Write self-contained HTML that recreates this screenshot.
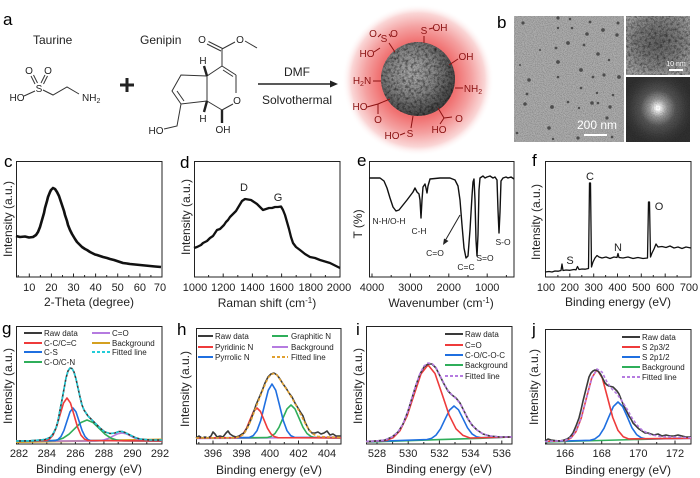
<!DOCTYPE html>
<html><head><meta charset="utf-8"><style>
html,body{margin:0;padding:0;background:#fff;}
svg{display:block;font-family:"Liberation Sans",Arial,sans-serif;}
</style></head><body>
<svg width="700" height="478" viewBox="0 0 700 478" xmlns="http://www.w3.org/2000/svg">
<defs>
<radialGradient id="glow" cx="0.5" cy="0.5" r="0.5">
<stop offset="0" stop-color="#ef6464"/>
<stop offset="0.5" stop-color="#f07070"/>
<stop offset="0.7" stop-color="#f4a0a0"/>
<stop offset="0.88" stop-color="#fad6d6"/>
<stop offset="1" stop-color="#ffffff" stop-opacity="0"/>
</radialGradient>
<radialGradient id="sph" cx="0.42" cy="0.4" r="0.65">
<stop offset="0" stop-color="#b2b2b2"/>
<stop offset="0.5" stop-color="#888"/>
<stop offset="1" stop-color="#3c3c3c"/>
</radialGradient>
<radialGradient id="hr" cx="0.5" cy="0.45" r="0.6">
<stop offset="0" stop-color="#666"/>
<stop offset="0.6" stop-color="#858585"/>
<stop offset="1" stop-color="#a8a8a8"/>
</radialGradient>
<radialGradient id="fft" cx="0.5" cy="0.48" r="0.55">
<stop offset="0" stop-color="#ffffff"/>
<stop offset="0.08" stop-color="#eeeeee"/>
<stop offset="0.25" stop-color="#9a9a9a"/>
<stop offset="0.5" stop-color="#555"/>
<stop offset="0.8" stop-color="#3a3a3a"/>
<stop offset="1" stop-color="#303030"/>
</radialGradient>
<filter id="grain" x="0" y="0" width="1" height="1">
<feTurbulence type="fractalNoise" baseFrequency="1.1" numOctaves="1" seed="5"/>
<feColorMatrix type="matrix" values="0 0 0 0 0  0 0 0 0 0  0 0 0 0 0  1.3 0 0 0 -0.5"/>
</filter>
<filter id="grain2" x="0" y="0" width="1" height="1">
<feTurbulence type="fractalNoise" baseFrequency="0.35" numOctaves="2" seed="9"/>
<feColorMatrix type="matrix" values="0 0 0 0 0  0 0 0 0 0  0 0 0 0 0  2.2 0 0 0 -0.95"/>
</filter>
<clipPath id="sc"><circle cx="418" cy="79" r="37"/></clipPath>
</defs>

<!-- ============ Panel a ============ -->
<text x="3" y="25" font-size="17">a</text>
<text x="33" y="44" font-size="12" fill="#222">Taurine</text>
<text x="140" y="44" font-size="12" fill="#222">Genipin</text>
<g fill="#222" font-size="10" text-anchor="middle">
<text x="17" y="101">HO</text>
<text x="39" y="92">S</text>
<text x="29" y="74">O</text>
<text x="48" y="74">O</text>
<text x="82" y="101" text-anchor="start">NH<tspan font-size="7" dy="2">2</tspan></text>
</g>
<g stroke="#333" stroke-width="1" fill="none">
<line x1="24" y1="96" x2="35" y2="91"/>
<line x1="35" y1="84" x2="31" y2="76"/><line x1="37.5" y1="83" x2="33.5" y2="75"/>
<line x1="41" y1="83" x2="45" y2="75"/><line x1="43.5" y1="84" x2="47.5" y2="76"/>
<polyline points="43,90 53,95 67,87 79,94"/>
</g>
<g stroke="#222" stroke-width="3"><line x1="120" y1="85" x2="134" y2="85"/><line x1="127" y1="78" x2="127" y2="92"/></g>
<!-- genipin -->
<g fill="#222" font-size="10" text-anchor="middle">
<text x="202" y="43">O</text>
<text x="240" y="43">O</text>
<text x="237" y="104">O</text>
<text x="203" y="64">H</text>
<text x="203" y="122">H</text>
<text x="223" y="133">OH</text>
<text x="156" y="134">HO</text>
</g>
<g stroke="#333" stroke-width="1" fill="none">
<line x1="207" y1="44" x2="221" y2="51"/><line x1="208.5" y1="41.5" x2="222.5" y2="48.5"/>
<line x1="222" y1="49" x2="235" y2="42"/>
<line x1="245" y1="41" x2="257" y2="48"/>
<line x1="222" y1="49" x2="222" y2="66"/>
<line x1="222" y1="66" x2="236" y2="75"/><line x1="223" y1="70" x2="233" y2="76.5"/>
<line x1="236" y1="75" x2="236" y2="93"/>
<line x1="233" y1="104" x2="222" y2="110"/>
<line x1="222" y1="110" x2="207" y2="101"/>
<line x1="207" y1="101" x2="207" y2="76"/>
<line x1="207" y1="76" x2="222" y2="66"/>
<polyline points="207,76 181,75 172,91 181,104 207,101"/>
<line x1="177" y1="91" x2="184" y2="101"/>
<polyline points="181,104 177,126 164,129"/>
</g>
<g stroke="#222" stroke-width="2.4"><line x1="207" y1="76" x2="204" y2="66"/><line x1="207" y1="101" x2="204" y2="112"/><line x1="222" y1="110" x2="222" y2="123"/></g>
<line x1="258" y1="84" x2="331" y2="84" stroke="#222" stroke-width="1.6"/>
<polygon points="330,80.5 338,84 330,87.5" fill="#222"/>
<text x="297" y="76" font-size="12" text-anchor="middle" fill="#222">DMF</text>
<text x="297" y="104" font-size="12" text-anchor="middle" fill="#222">Solvothermal</text>

<!-- sphere -->
<circle cx="418" cy="80" r="76" fill="url(#glow)"/>
<circle cx="418" cy="79" r="37" fill="url(#sph)"/>
<g clip-path="url(#sc)">
<rect x="381" y="42" width="74" height="74" filter="url(#grain2)" opacity="0.6"/>
<rect x="381" y="42" width="74" height="74" filter="url(#grain)" opacity="0.5"/>
</g>
<g fill="#8b1212" font-size="10" text-anchor="middle">
<text x="373" y="37">O</text><text x="384" y="42">S</text><text x="394" y="37">O</text>
<text x="367" y="57">HO</text>
<text x="424" y="34">S</text><text x="440" y="31">OH</text>
<text x="466" y="60">OH</text>
<text x="362" y="84">H<tspan font-size="7" dy="2">2</tspan><tspan dy="-2">N</tspan></text>
<text x="473" y="92">NH<tspan font-size="7" dy="2">2</tspan></text>
<text x="360" y="110">HO</text><text x="378" y="123">O</text>
<text x="392" y="139">HO</text><text x="410" y="137">S</text>
<text x="439" y="133">HO</text><text x="459" y="122">O</text>
</g>
<g stroke="#8b1212" stroke-width="1" fill="none">
<line x1="378" y1="37" x2="381" y2="34"/><line x1="389" y1="34" x2="391" y2="37"/>
<line x1="374" y1="52" x2="380" y2="48"/>
<line x1="389" y1="43" x2="395" y2="52"/>
<line x1="429" y1="29" x2="433" y2="28"/>
<line x1="424" y1="36" x2="424" y2="43"/>
<line x1="458" y1="59" x2="449" y2="65"/>
<line x1="373" y1="81" x2="381" y2="81"/>
<line x1="455" y1="88" x2="463" y2="88"/>
<polyline points="367,107 378,104 390,99"/><line x1="378" y1="104" x2="378" y2="114"/>
<line x1="400" y1="135" x2="405" y2="133"/>
<line x1="411" y1="128" x2="413" y2="116"/>
<polyline points="440,124 444,118 438,108"/><line x1="444" y1="118" x2="452" y2="117"/>
</g>

<!-- ============ Panel b ============ -->
<text x="497" y="28" font-size="17">b</text>
<rect x="514" y="16" width="110" height="126" fill="#adadad"/>
<rect x="514" y="16" width="110" height="126" filter="url(#grain)" opacity="0.45"/>
<g fill="#4d4d4d">
<circle cx="523" cy="23" r="1.6"/><circle cx="558" cy="18" r="1.6"/><circle cx="570" cy="19" r="1.3"/><circle cx="590" cy="22" r="1.4"/><circle cx="618" cy="23" r="1.5"/>
<circle cx="558" cy="28" r="1.2"/><circle cx="572" cy="28" r="1.3"/><circle cx="603" cy="30" r="1.9"/><circle cx="587" cy="34" r="1.8"/><circle cx="617" cy="35" r="1.7"/>
<circle cx="568" cy="43" r="1.9"/><circle cx="584" cy="45" r="1.4"/><circle cx="556" cy="48" r="1.4"/><circle cx="598" cy="54" r="1.8"/><circle cx="609" cy="60" r="1.2"/>
<circle cx="558" cy="62" r="1.9"/><circle cx="581" cy="70" r="1.9"/><circle cx="619" cy="77" r="1.9"/><circle cx="593" cy="77" r="1.4"/><circle cx="558" cy="77" r="1.3"/>
<circle cx="529" cy="80" r="1.8"/><circle cx="604" cy="75" r="1.6"/><circle cx="581" cy="88" r="1.3"/><circle cx="613" cy="95" r="1.3"/><circle cx="527" cy="94" r="1.4"/>
<circle cx="597" cy="93" r="1.2"/><circle cx="568" cy="102" r="1.3"/><circle cx="592" cy="103" r="1.8"/><circle cx="525" cy="104" r="1.8"/><circle cx="552" cy="107" r="1.9"/>
<circle cx="598" cy="103" r="1.3"/><circle cx="610" cy="107" r="1.7"/><circle cx="579" cy="108" r="1.2"/><circle cx="607" cy="118" r="1.6"/><circle cx="549" cy="128" r="1.8"/>
<circle cx="517" cy="133" r="1.3"/><circle cx="578" cy="138" r="1.6"/><circle cx="553" cy="139" r="1.2"/><circle cx="612" cy="137" r="1.3"/><circle cx="520" cy="65" r="1.0"/><circle cx="540" cy="50" r="1.0"/>
</g>
<text x="597" y="129" font-size="12" fill="#fff" text-anchor="middle">200 nm</text>
<line x1="584" y1="135" x2="607" y2="135" stroke="#fff" stroke-width="2"/>
<rect x="626" y="16" width="64" height="59" fill="url(#hr)"/>
<rect x="626" y="16" width="64" height="59" filter="url(#grain2)" opacity="0.5"/>
<rect x="626" y="16" width="64" height="59" filter="url(#grain)" opacity="0.6"/>
<text x="676" y="66" font-size="7" fill="#fff" text-anchor="middle">10 nm</text>
<line x1="669" y1="70" x2="683" y2="70" stroke="#fff" stroke-width="2"/>
<rect x="626" y="77" width="64" height="65" fill="url(#fft)"/>
<rect x="626" y="77" width="64" height="65" filter="url(#grain)" opacity="0.35"/>
<circle cx="658" cy="108" r="2" fill="none" stroke="#fff" stroke-width="1"/>

<!-- ============ Row 2 ============ -->
<g font-size="17"><text x="4" y="167">c</text><text x="180" y="168">d</text><text x="357" y="166">e</text><text x="532" y="166">f</text></g>
<g fill="none" stroke="#222" stroke-width="1">
<rect x="16.5" y="161.5" width="145.5" height="115.5"/>
<rect x="194.5" y="161.5" width="145.5" height="115.5"/>
<rect x="369.5" y="161.5" width="144.5" height="115.5"/>
<rect x="545.5" y="161.5" width="145.5" height="115.5"/>
<path d="M29.3,277v-3.5M51.4,277v-3.5M73.5,277v-3.5M95.6,277v-3.5M117.7,277v-3.5M139.9,277v-3.5M18.2,277v-2M40.4,277v-2M62.5,277v-2M84.6,277v-2M106.7,277v-2M128.8,277v-2M150.9,277v-2
M223.2,277v-3.5M252.4,277v-3.5M281.6,277v-3.5M310.8,277v-3.5M208.6,277v-2M237.8,277v-2M267,277v-2M296.2,277v-2M325.4,277v-2
M372,277v-3.5M410.4,277v-3.5M448.8,277v-3.5M487.2,277v-3.5M391.2,277v-2M429.6,277v-2M468,277v-2M506.4,277v-2
M569.8,277v-3.5M593.7,277v-3.5M617.5,277v-3.5M641.3,277v-3.5M665.2,277v-3.5M557.9,277v-2M581.8,277v-2M605.6,277v-2M629.4,277v-2M653.3,277v-2M677.1,277v-2"/>
</g>
<g font-size="11" text-anchor="middle" fill="#222">
<text x="29.3" y="291">10</text><text x="51.4" y="291">20</text><text x="73.5" y="291">30</text><text x="95.6" y="291">40</text><text x="117.7" y="291">50</text><text x="139.9" y="291">60</text><text x="160" y="291">70</text>
<text x="195" y="291">1000</text><text x="223.2" y="291">1200</text><text x="252.4" y="291">1400</text><text x="281.6" y="291">1600</text><text x="310.8" y="291">1800</text><text x="339" y="291">2000</text>
<text x="372" y="291">4000</text><text x="410.4" y="291">3000</text><text x="448.8" y="291">2000</text><text x="487.2" y="291">1000</text>
<text x="546" y="291">100</text><text x="569.8" y="291">200</text><text x="593.7" y="291">300</text><text x="617.5" y="291">400</text><text x="641.3" y="291">500</text><text x="665.2" y="291">600</text><text x="689" y="291">700</text>
</g>
<g font-size="12" text-anchor="middle" fill="#222">
<text x="89" y="306">2-Theta (degree)</text>
<text x="267" y="307">Raman shift (cm<tspan font-size="8" dy="-4">-1</tspan><tspan dy="4">)</tspan></text>
<text x="441" y="307">Wavenumber (cm<tspan font-size="8" dy="-4">-1</tspan><tspan dy="4">)</tspan></text>
<text x="618" y="306">Binding energy (eV)</text>
<text transform="translate(12,219) rotate(-90)">Intensity (a.u.)</text>
<text transform="translate(190,217) rotate(-90)">Intensity (a.u.)</text>
<text transform="translate(362,224) rotate(-90)">T (%)</text>
<text transform="translate(540,222) rotate(-90)">Intensity (a.u.)</text>
</g>
<!-- c curve -->
<polyline fill="none" stroke="#111" stroke-width="2.6" stroke-linejoin="round" points="16,236 20,237 25,236.5 29,237.5 33,237 36,235 38,232 40,227 42,220 44,213 45,208 47,201 48,197 50,192 51,190 53,188 55,189 57,192 59,196 60,199 62,205 64,211 65,215 67,221 68,225 70,230 72,234 75,239 77,242 80,245 82,247 85,249 87,250 90,252 92,253 95,254.5 97,255 100,256 103,257 107,258 110,259 114,260 117,261 120,262 123,263 127,263.5 130,264 135,264.5 140,265 145,265.5 150,266 155,266.5 161,267"/>
<!-- d curve -->
<polyline fill="none" stroke="#111" stroke-width="2.3" stroke-linejoin="round" points="194,248 197,247 199,246 201,245 203,243 205,242 207,241 210,238 213,236 215,233 217,230 220,229 222,227 224,225 226,222 228,220 230,217 233,214 236,211 239,206 242,201 245,199 248,199.5 251,200 254,202 257,204 260,207 263,210 266,209 269,208 272,208 275,207 278,207 281,206.5 283,210 285,215 287,222 289,229 291,237 293,243 296,247 300,250 305,254 310,257 315,258 320,260 325,261.5 330,263 335,265.5 340,268"/>
<g font-size="11" text-anchor="middle" fill="#222"><text x="244" y="191">D</text><text x="278" y="201">G</text></g>
<!-- e curve -->
<polyline fill="none" stroke="#111" stroke-width="1.4" stroke-linejoin="round" points="369,178 376,178 380,178 384,181 387,188 390,198 393,207 396,211 399,210 403,205 407,200 410,196 413,192 415,188 417,192 419,194 420,200 421,218 422,200 423,187 425,184 426,188 427,193 428,186 430,179 435,178.5 440,178 450,178 455,180 458,186 460,200 462,225 464,248 466,258 468,256 470,230 472,196 473,182 474,179 475,200 476,240 477,256 478,235 479,190 480,178 483,176 485,178 487,177 490,176 493,178 495,177 497,180 498,210 499,233 500,212 501,181 503,178 506,177 508,178 511,177 514,179"/>
<g font-size="8.5" text-anchor="middle" fill="#222">
<text x="389" y="224">N-H/O-H</text><text x="419" y="234">C-H</text><text x="435" y="256">C=O</text><text x="466" y="270">C=C</text><text x="485" y="261">S=O</text><text x="503" y="245">S-O</text>
</g>
<line x1="460" y1="215" x2="445" y2="241" stroke="#222" stroke-width="1"/>
<polygon points="443,245 444,238.5 448.5,241" fill="#222"/>
<!-- f curve -->
<polyline fill="none" stroke="#111" stroke-width="1.3" stroke-linejoin="round" points="545,272 549,271.5 552,272 555,271 558,271.2 561,270.5 562,264 563,270.5 566,270 570,270.3 574,269.5 576,269.8 577.5,266.5 579,269.5 582,269 585,269.2 588.5,268.5 589.5,183 590.5,183 591.5,267 593,262 595,258 597,255.5 599,257 602,258 606,257 610,258.5 614,257 617,257.5 618,253.5 619,257.5 623,258 628,257 633,258.5 638,257.5 643,258.5 647.5,258 648.5,202 649.5,202 650.5,257 652,253 654,249 656,244 658,247 662,246.5 666,247.5 670,246 674,248 678,247 682,248.5 686,247 691,248"/>
<g font-size="11" text-anchor="middle" fill="#222"><text x="590" y="180">C</text><text x="618" y="251">N</text><text x="659" y="210">O</text><text x="570" y="264">S</text></g>

<!-- ============ Row 3 ============ -->
<g font-size="17"><text x="2" y="334">g</text><text x="177" y="335">h</text><text x="356" y="335">i</text><text x="532" y="335">j</text></g>
<g fill="none" stroke="#222" stroke-width="1">
<rect x="16.5" y="326.5" width="145.5" height="117.5"/>
<rect x="196.5" y="328.5" width="144.5" height="115.5"/>
<rect x="366.5" y="326.5" width="145.5" height="117.5"/>
<rect x="545.5" y="329.5" width="145.5" height="114.5"/>
<path d="M18.3,444v-3.5M46.8,444v-3.5M75.4,444v-3.5M103.9,444v-3.5M132.5,444v-3.5M32.6,444v-2M61.1,444v-2M89.7,444v-2M118.2,444v-2M146.8,444v-2
M213,444v-3.5M241.5,444v-3.5M270,444v-3.5M298.5,444v-3.5M327,444v-3.5M198.8,444v-2M227.3,444v-2M255.8,444v-2M284.3,444v-2M312.8,444v-2
M377,444v-3.5M408.2,444v-3.5M439.4,444v-3.5M470.6,444v-3.5M501.8,444v-3.5M392.6,444v-2M423.8,444v-2M455,444v-2M486.2,444v-2
M565,444v-3.5M601.7,444v-3.5M638.3,444v-3.5M675,444v-3.5M546.7,444v-2M583.3,444v-2M620,444v-2M656.7,444v-2"/>
</g>
<g font-size="11" text-anchor="middle" fill="#222">
<text x="19" y="457">282</text><text x="46.8" y="457">284</text><text x="75.4" y="457">286</text><text x="103.9" y="457">288</text><text x="132.5" y="457">290</text><text x="160" y="457">292</text>
<text x="213" y="457">396</text><text x="241.5" y="457">398</text><text x="270" y="457">400</text><text x="298.5" y="457">402</text><text x="327" y="457">404</text>
<text x="377" y="457">528</text><text x="408.2" y="457">530</text><text x="439.4" y="457">532</text><text x="470.6" y="457">534</text><text x="501.8" y="457">536</text>
<text x="565" y="457">166</text><text x="601.7" y="457">168</text><text x="638.3" y="457">170</text><text x="675" y="457">172</text>
</g>
<g font-size="12" text-anchor="middle" fill="#222">
<text x="89" y="473">Binding energy (eV)</text>
<text x="269" y="474">Binding energy (eV)</text>
<text x="439" y="473">Binding energy (eV)</text>
<text x="618" y="474">Binding energy (eV)</text>
<text transform="translate(12,386) rotate(-90)">Intensity (a.u.)</text>
<text transform="translate(189,389) rotate(-90)">Intensity (a.u.)</text>
<text transform="translate(362,386) rotate(-90)">Intensity (a.u.)</text>
<text transform="translate(538,387) rotate(-90)">Intensity (a.u.)</text>
</g>

<!-- g curves -->
<g fill="none" stroke-width="1.6" stroke-linejoin="round">
<polyline stroke="#d4a020" stroke-width="2" points="16,442 162,439.5"/>
<polyline stroke="#b57be0" points="16,441 95,440.9 99.5,440.65 104,439.9 108.5,438.4 113,436.1 117.5,433.9 122,433 126.5,433.9 131,436.1 135.5,438.4 140,439.9 144.5,440.65 149,440.9 162,441"/>
<polyline stroke="#2fae5a" points="16,441 51,440.8 57,440.1 63,438.2 69,434.2 75,428.3 81,422.5 87,420 93,422.5 99,428.3 105,434.2 111,438.2 117,440.1 123,440.8 162,441"/>
<polyline stroke="#1f6fe0" points="16,441 55,440.6 58,439.6 61,436.5 64,430.3 67,421 70,411.9 73,408 76,411.9 79,421 82,430.3 85,436.5 88,439.6 91,440.6 162,441"/>
<polyline stroke="#ee3b3b" points="16,441 46,440.5 49.5,439.1 53,435.2 56.5,427 60,414.9 63.5,403.1 67,398 70.5,403.1 74,414.9 77.5,427 81,435.2 84.5,439.1 88,440.5 162,441"/>
<polyline stroke="#3a3a3a" points="16,441 30,440.8 40,440 45,439.5 50,437.5 53,434 56,428 58,421 60,410 62,400 64,389 66,378 68,371 70,368 72,368.5 74,372 76,379 78,388 80,397 82,405 84,410 86,413 88,416 91,419 95,423 100,428 105,432 110,433.5 115,433 119,431.5 122,431.5 125,432.5 130,435 135,437.5 140,439 150,440 162,440"/>
<polyline stroke="#22ccd8" stroke-dasharray="3,2" points="16,441 30,440.8 40,440 45,439.5 50,437.5 53,434 56,428 58,421 60,410 62,400 64,389 66,378 68,371 70,368 72,368.5 74,372 76,379 78,388 80,397 82,405 84,410 86,413 88,416 91,419 95,423 100,428 105,432 110,433.5 115,433 119,431.5 122,431.5 125,432.5 130,435 135,437.5 140,439 150,440 162,440"/>
</g>
<g stroke-width="2">
<line x1="24" y1="333" x2="42" y2="333" stroke="#3a3a3a"/>
<line x1="24" y1="343" x2="42" y2="343" stroke="#ee3b3b"/>
<line x1="24" y1="352" x2="42" y2="352" stroke="#1f6fe0"/>
<line x1="24" y1="362" x2="42" y2="362" stroke="#2fae5a"/>
<line x1="92" y1="333" x2="110" y2="333" stroke="#b57be0"/>
<line x1="92" y1="343" x2="110" y2="343" stroke="#d4a020"/>
<line x1="92" y1="352" x2="110" y2="352" stroke="#22ccd8" stroke-dasharray="3,2"/>
</g>
<g font-size="8" fill="#222">
<text x="44" y="336">Raw data</text><text x="44" y="346">C-C/C=C</text><text x="44" y="355">C-S</text><text x="44" y="365">C-O/C-N</text>
<text x="112" y="336">C=O</text><text x="112" y="346">Background</text><text x="112" y="355">Fitted line</text>
</g>

<!-- h curves -->
<g fill="none" stroke-width="1.6" stroke-linejoin="round">
<polyline stroke="#b57be0" points="196,438.5 260,438 300,437.6 341,437"/>
<polyline stroke="#2fae5a" points="196,438 267,437.6 271,436.5 275,433.5 279,427.3 283,418 287,408.9 291,405 295,408.9 299,418 303,427.3 307,433.5 311,436.5 315,437.6 341,438"/>
<polyline stroke="#1f6fe0" points="196,438 249.5,437.4 253.25,435.6 257,430.7 260.75,420.5 264.5,405.2 268.25,390.3 272,384 275.75,390.3 279.5,405.2 283.25,420.5 287,430.7 290.75,435.6 294.5,437.4 341,438"/>
<polyline stroke="#ee3b3b" points="196,438 236,437.7 239.5,436.7 243,433.9 246.5,428.3 250,419.8 253.5,411.5 257,408 260.5,411.5 264,419.8 267.5,428.3 271,433.9 274.5,436.7 278,437.7 341,438"/>
<polyline stroke="#3a3a3a" points="196,438 199,436 202,438 205,437 208,438 211,436 213,432 215,434 217,437 220,436 223,437 226,433 228,431 230,434 233,436 236,437 239,436 242,434 244,433 247,428 250,422 253,414 256,405 259,398 262,391 265,383 268,377 271,374 274,373 277,375 280,379 283,384 286,388 289,393 292,397 295,403 298,408 301,413 303,416 305,422 307,426 309,430 312,433 315,433 318,432 321,434 324,433 327,431 330,435 333,434 336,436 341,436"/>
<polyline stroke="#e0a030" stroke-dasharray="3,2" points="196,438 235,437.8 240,436.5 244,434 248,427 252,418 256,407 260,397 264,387 268,378 271,374.5 274,373.5 277,375 281,381 285,387 289,393 293,400 297,407 301,415 305,423 309,430 313,434 318,436.5 341,437.5"/>
</g>
<g stroke-width="2">
<line x1="198" y1="336" x2="213" y2="336" stroke="#3a3a3a"/>
<line x1="198" y1="347" x2="213" y2="347" stroke="#ee3b3b"/>
<line x1="198" y1="357" x2="213" y2="357" stroke="#1f6fe0"/>
<line x1="272" y1="336" x2="288" y2="336" stroke="#2fae5a"/>
<line x1="272" y1="347" x2="288" y2="347" stroke="#b57be0"/>
<line x1="272" y1="357" x2="288" y2="357" stroke="#e0a030" stroke-dasharray="3,2"/>
</g>
<g font-size="8" fill="#222">
<text x="215" y="339">Raw data</text><text x="215" y="350">Pyridinic N</text><text x="215" y="360">Pyrrolic N</text>
<text x="291" y="339">Graphitic N</text><text x="291" y="350">Background</text><text x="291" y="360">Fitted line</text>
</g>

<!-- i curves -->
<g fill="none" stroke-width="1.6" stroke-linejoin="round">
<polyline stroke="#2fae5a" points="366,442 400,441 440,439.6 480,438.3 512,437"/>
<polyline stroke="#1f6fe0" points="366,441.7 427,439.5 431.5,438.35 436,435.1 440.5,428.8 445,419.3 449.5,410.1 454,406 458.5,409.8 463,418.7 467.5,427.8 472,433.9 476.5,436.75 481,437.7 512,437"/>
<polyline stroke="#ee3b3b" points="366,441.7 386,440.5 393,437.8 400,430.7 407,416.2 414,394.9 421,373.9 428,364.9 435,373.5 442,393.9 449,414.8 456,428.8 463,435.4 470,438 512,437"/>
<polyline stroke="#3a3a3a" points="366,441.5 372,441.2 378,440.8 385,440 392,437 398,432 403,424 408,411 412,398 416,385 420,374 424,367 428,364 432,364 436,368 440,376 444,384 448,391 452,395 456,398 460,403 464,411 468,419 472,425 477,430 483,434 490,436 500,437 512,437"/>
<polyline stroke="#b57be0" stroke-dasharray="3,2" points="366,441.5 378,440.8 385,440 392,437 398,432 403,424 408,411 412,398 416,385 420,373.5 424,366 428,363 432,363.5 436,367.5 440,375.5 444,383.5 448,390.5 452,395 456,398.5 460,403.5 464,411 468,419 472,425 477,430 483,434 490,436 500,437 512,437"/>
</g>
<g stroke-width="2">
<line x1="445" y1="334" x2="463" y2="334" stroke="#3a3a3a"/>
<line x1="445" y1="345" x2="463" y2="345" stroke="#ee3b3b"/>
<line x1="445" y1="355" x2="463" y2="355" stroke="#1f6fe0"/>
<line x1="445" y1="365" x2="463" y2="365" stroke="#2fae5a"/>
<line x1="445" y1="376" x2="463" y2="376" stroke="#b57be0" stroke-dasharray="3,2"/>
</g>
<g font-size="8" fill="#222">
<text x="465" y="337">Raw data</text><text x="465" y="348">C=O</text><text x="465" y="358">C-O/C-O-C</text><text x="465" y="368">Background</text><text x="465" y="379">Fitted line</text>
</g>

<!-- j curves -->
<g fill="none" stroke-width="1.6" stroke-linejoin="round">
<polyline stroke="#2fae5a" points="545,442 691,438"/>
<polyline stroke="#1f6fe0" points="545,441.5 590.1,440.3 594.75,439 599.4,435.5 604.05,428.2 608.7,417.2 613.35,406.6 618,402 622.65,406.5 627.3,416.9 631.95,427.8 636.6,434.6 641.25,437.8 645.9,438.9 691,438.3"/>
<polyline stroke="#ee3b3b" points="545,441.5 565.5,440.6 570.75,438.2 576,431.6 581.25,418.1 586.5,397.8 591.75,378 597,369.6 602.25,377.8 607.5,397.5 612.75,417.5 618,430.4 623.25,436.8 628.5,438.9 691,438.3"/>
<polyline stroke="#3a3a3a" points="545,441 548,439 551,440 555,440.5 560,441 564,440 567,439 570,437 573,433 576,426 579,418 581,410 583,401 585,393 587,385 589,377 591,373 593,371 595,370 597,370.5 599,372 601,375 603,379 605,383 607,385 609,386 611,386.5 613,387 615,389 617,391 619,394 621,399 623,404 625,408 627,412 629,416 631,419 633,423 636,426 639,429 642,431 645,433 648,433 651,434 654,435 658,434 662,436 666,435 670,436 674,436 678,435 682,436 686,437 691,437"/>
<polyline stroke="#b57be0" stroke-dasharray="3,2" points="545,441.5 565,440.5 572,437 577,429 582,415 587,396 592,378 597,369 602,372 607,382 612,389 617,394 622,401 627,409 632,418 637,425 642,430 650,434.5 660,436.5 691,437.8"/>
</g>
<g stroke-width="2">
<line x1="622" y1="337" x2="640" y2="337" stroke="#3a3a3a"/>
<line x1="622" y1="347" x2="640" y2="347" stroke="#ee3b3b"/>
<line x1="622" y1="357" x2="640" y2="357" stroke="#1f6fe0"/>
<line x1="622" y1="367" x2="640" y2="367" stroke="#2fae5a"/>
<line x1="622" y1="377" x2="640" y2="377" stroke="#b57be0" stroke-dasharray="3,2"/>
</g>
<g font-size="8" fill="#222">
<text x="642" y="340">Raw data</text><text x="642" y="350">S 2p3/2</text><text x="642" y="360">S 2p1/2</text><text x="642" y="370">Background</text><text x="642" y="380">Fitted line</text>
</g>
</svg>
</body></html>
